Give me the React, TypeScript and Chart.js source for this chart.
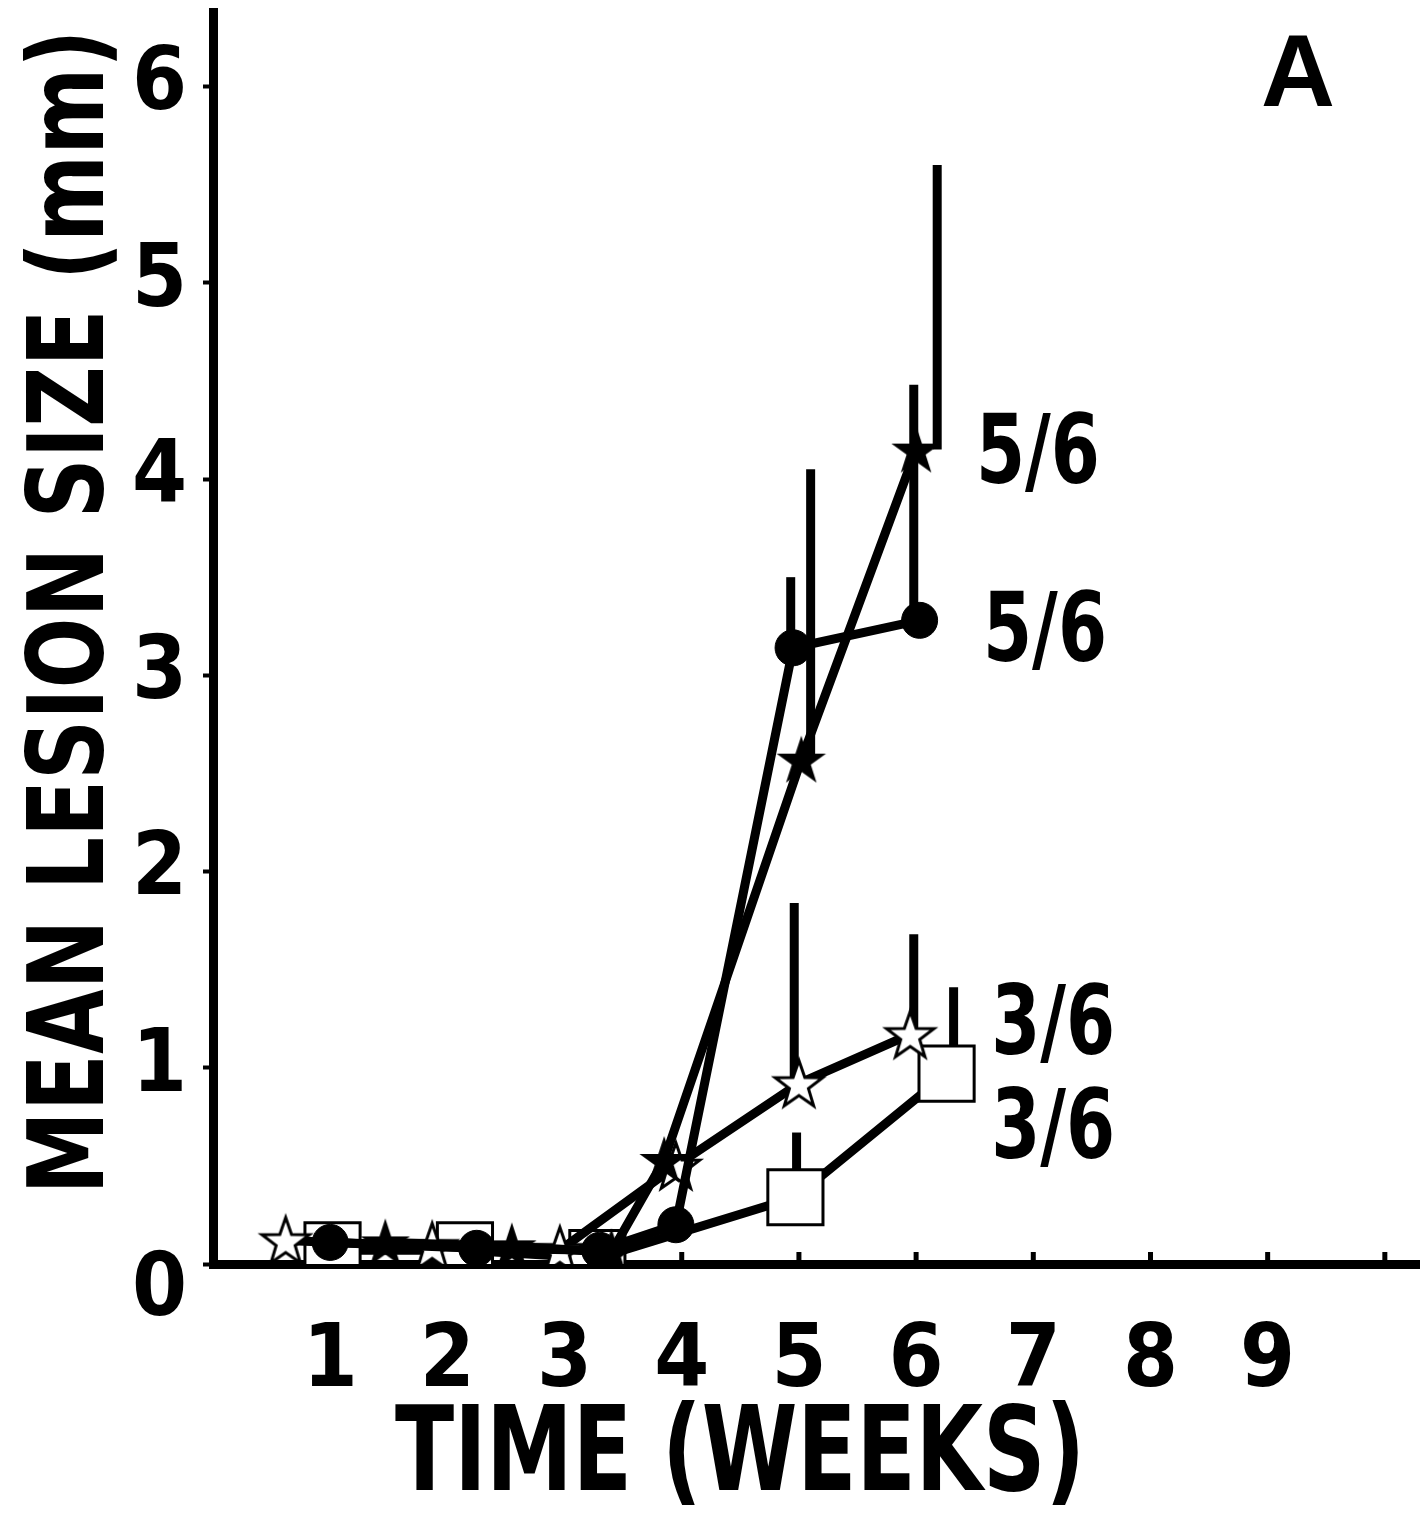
import React, { useEffect, useRef } from 'react';
import { Chart, registerables } from 'chart.js';

Chart.register(...registerables);

// ---------- data ----------
const xTickValues = [1, 2, 3, 4, 5, 6, 7, 8, 9];
const yTickValues = [0, 1, 2, 3, 4, 5, 6];

// filled circles (lower "5/6")
const circleWeeks = [1.0, 2.25, 3.3, 3.95, 4.95, 6.03];
const circleMeans = [0.11, 0.08, 0.07, 0.2, 3.14, 3.28];
const circleErrWeeks = [4.93, 5.98];
const circleErrTops = [3.5, 4.48];

// filled stars (upper "5/6")
const fStarWeeks = [1.47, 2.55, 3.4, 3.85, 5.02, 6.0];
const fStarMeans = [0.11, 0.09, 0.06, 0.53, 2.57, 4.15];
const fStarErrWeeks = [5.1, 6.18];
const fStarErrTops = [4.05, 5.6];

// open stars (upper "3/6")
const oStarWeeks = [0.62, 1.87, 2.96, 3.95, 5.0, 5.95];
const oStarMeans = [0.12, 0.09, 0.07, 0.5, 0.92, 1.17];
const oStarErrWeeks = [4.96, 5.98];
const oStarErrTops = [1.84, 1.68];

// open squares (lower "3/6")
const squareWeeks = [1.02, 2.15, 3.28, 4.97, 6.26];
const squareMeans = [0.07, 0.07, 0.03, 0.34, 0.97];
const squareErrWeeks = [4.98, 6.32];
const squareErrTops = [0.67, 1.41];

// right-hand labels
const noteLabels = ['5/6', '5/6', '3/6', '3/6'];
const noteWeeks = [7.04, 7.1, 7.17, 7.17];
const noteValues = [4.16, 3.25, 1.25, 0.72];

const xTitle = 'TIME (WEEKS)';
const yTitle = 'MEAN LESION SIZE (mm)';
const panelLabel = 'A';

const NARROW = "'Liberation Sans Narrow', 'DejaVu Sans Condensed', 'Roboto Condensed', 'Liberation Sans', sans-serif";
const WIDE = "'Liberation Sans', Arial, sans-serif";

function pts(xs: number[], ys: number[]) {
  return xs.map((x, i) => ({ x, y: ys[i] }));
}

function makeStar(outer: number, inner: number, fill: string, lw: number) {
  const size = Math.ceil(outer * 2 + lw * 2 + 4);
  const c = document.createElement('canvas');
  c.width = size;
  c.height = size;
  const ctx = c.getContext('2d')!;
  ctx.translate(size / 2, size / 2 + 2);
  ctx.beginPath();
  for (let i = 0; i < 10; i++) {
    const r = i % 2 === 0 ? outer : inner;
    const a = -Math.PI / 2 + (i * Math.PI) / 5;
    ctx.lineTo(r * Math.cos(a), r * Math.sin(a));
  }
  ctx.closePath();
  ctx.fillStyle = fill;
  ctx.fill();
  if (lw > 0) {
    ctx.lineWidth = lw;
    ctx.strokeStyle = '#000';
    ctx.lineJoin = 'miter';
    ctx.stroke();
  }
  return c;
}

function fitText(
  ctx: CanvasRenderingContext2D,
  text: string,
  cx: number,
  cy: number,
  w: number,
  h: number,
  family: string,
  rotate = false
) {
  ctx.save();
  ctx.font = `bold 100px ${family}`;
  const capH = ctx.measureText('H').actualBoundingBoxAscent || 72;
  const size = (100 * h) / capH;
  ctx.font = `bold ${size}px ${family}`;
  const tw = ctx.measureText(text).width;
  ctx.translate(cx, cy);
  if (rotate) ctx.rotate(-Math.PI / 2);
  ctx.scale(w / tw, 1);
  ctx.fillStyle = '#000';
  ctx.textAlign = 'center';
  ctx.textBaseline = 'alphabetic';
  ctx.fillText(text, 0, h / 2);
  ctx.restore();
}

const errorBarPlugin = {
  id: 'errorBars',
  beforeDatasetsDraw(chart: any) {
    const { ctx, scales } = chart;
    const xs = scales.x;
    const ys = scales.y;
    const sets = [
      [circleErrWeeks, circleErrTops, circleWeeks, circleMeans],
      [fStarErrWeeks, fStarErrTops, fStarWeeks, fStarMeans],
      [oStarErrWeeks, oStarErrTops, oStarWeeks, oStarMeans],
      [squareErrWeeks, squareErrTops, squareWeeks, squareMeans],
    ];
    ctx.save();
    ctx.strokeStyle = '#000';
    ctx.lineWidth = 9;
    ctx.lineCap = 'butt';
    sets.forEach(([ew, et, w, m]) => {
      ew.forEach((wx: number, i: number) => {
        let best = 0;
        w.forEach((wv: number, j: number) => {
          if (Math.abs(wv - wx) < Math.abs(w[best] - wx)) best = j;
        });
        const px = xs.getPixelForValue(wx);
        ctx.beginPath();
        ctx.moveTo(px, ys.getPixelForValue(m[best]));
        ctx.lineTo(px, ys.getPixelForValue(et[i]));
        ctx.stroke();
      });
    });
    // small inward tick marks on the x axis
    ctx.lineWidth = 5;
    [...xTickValues, 10].forEach((v) => {
      const px = xs.getPixelForValue(v);
      ctx.beginPath();
      ctx.moveTo(px, ys.bottom);
      ctx.lineTo(px, ys.bottom - 12);
      ctx.stroke();
    });
    ctx.restore();
  },
  afterDraw(chart: any) {
    const { ctx, scales } = chart;
    const xs = scales.x;
    const ys = scales.y;
    fitText(ctx, yTitle, 64, 612, 1165, 77, NARROW, true);
    fitText(ctx, xTitle, 740, 1447, 690, 86, NARROW);
    fitText(ctx, panelLabel, 1298, 70, 74, 72, WIDE);
    noteLabels.forEach((t, i) => {
      fitText(ctx, t, xs.getPixelForValue(noteWeeks[i]), ys.getPixelForValue(noteValues[i]), 124, 70, NARROW);
    });
  },
};

function zeroPadding(s: any) {
  s.paddingTop = 0;
  s.paddingBottom = 0;
  s.paddingLeft = 0;
  s.paddingRight = 0;
}

export default function App() {
  const ref = useRef<HTMLCanvasElement | null>(null);

  useEffect(() => {
    if (!ref.current) return;
    const openStar = makeStar(25, 10, '#fff', 3);
    const filledStar = makeStar(26, 10, '#000', 0);

    const chart = new Chart(ref.current, {
      type: 'line',
      data: {
        datasets: [
          {
            label: 'filled circle',
            data: pts(circleWeeks, circleMeans),
            borderColor: '#000',
            borderWidth: 9,
            pointStyle: 'circle',
            pointRadius: 18,
            pointBackgroundColor: '#000',
            pointBorderColor: '#000',
            pointBorderWidth: 1,
            tension: 0,
          },
          {
            label: 'filled star',
            data: pts(fStarWeeks, fStarMeans),
            borderColor: '#000',
            borderWidth: 9,
            pointStyle: filledStar as any,
            pointRadius: 20,
            tension: 0,
          },
          {
            label: 'open star',
            data: pts(oStarWeeks, oStarMeans),
            borderColor: '#000',
            borderWidth: 9,
            pointStyle: openStar as any,
            pointRadius: 20,
            tension: 0,
          },
          {
            label: 'open square',
            data: pts(squareWeeks, squareMeans),
            borderColor: '#000',
            borderWidth: 9,
            pointStyle: 'rect',
            pointRadius: 39,
            pointBackgroundColor: '#fff',
            pointBorderColor: '#000',
            pointBorderWidth: 3,
            tension: 0,
          },
        ],
      },
      options: {
        animation: false,
        responsive: false,
        maintainAspectRatio: false,
        devicePixelRatio: 1,
        layout: { autoPadding: false, padding: { top: 12, right: 0, left: 0, bottom: 0 } },
        plugins: {
          legend: { display: false },
          tooltip: { enabled: false },
          title: { display: false },
        },
        scales: {
          x: {
            type: 'linear',
            min: 0,
            max: 10.3,
            afterBuildTicks: (s: any) => {
              s.ticks = xTickValues.map((v) => ({ value: v }));
            },
            afterFit: (s: any) => {
              s.height = 250;
              zeroPadding(s);
            },
            grid: { display: true, drawOnChartArea: false, drawTicks: false },
            border: { display: true, color: '#000', width: 9 },
            ticks: {
              color: '#000',
              padding: 46,
              autoSkip: false,
              maxRotation: 0,
              font: { family: NARROW, size: 88, weight: 'bold' },
              callback: (v: any) => String(v),
            },
          },
          y: {
            type: 'linear',
            min: 0,
            max: 6.38,
            afterBuildTicks: (s: any) => {
              s.ticks = yTickValues.map((v) => ({ value: v }));
            },
            afterFit: (s: any) => {
              s.width = 213;
              zeroPadding(s);
            },
            grid: { display: true, drawOnChartArea: false, drawTicks: true, tickLength: 10, tickWidth: 4, tickColor: '#000' },
            border: { display: true, color: '#000', width: 9 },
            ticks: {
              color: '#000',
              padding: 16,
              autoSkip: false,
              font: (c: any) => ({
                family: NARROW,
                size: 88,
                weight: 'bold',
                lineHeight: c.tick && c.tick.value === 0 ? 0.65 : 1.2,
              }),
              callback: (v: any) => (v === 0 ? ['', '0'] : String(v)),
            },
          },
        },
      },
      plugins: [errorBarPlugin],
    } as any);

    return () => chart.destroy();
  }, []);

  return (
    <div style={{ position: 'absolute', left: 0, top: 0, width: 1420, height: 1514, background: '#fff' }}>
      <canvas ref={ref} width={1420} height={1514} />
    </div>
  );
}
